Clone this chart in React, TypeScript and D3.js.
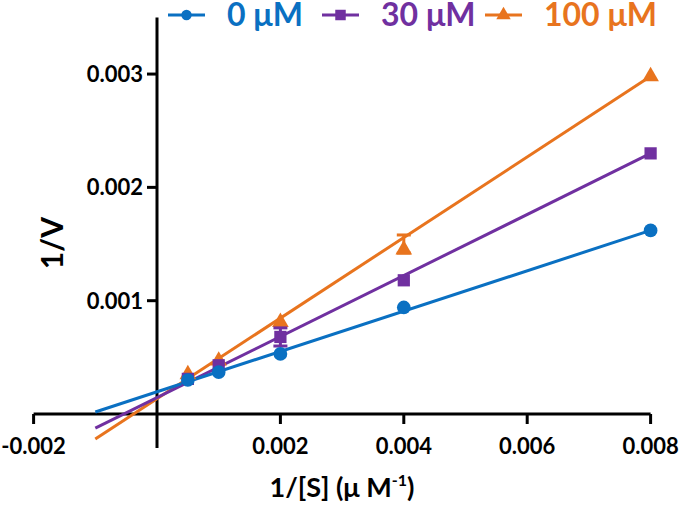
import React from "react";
import * as d3 from "d3";

const seriesNames = ["0 μM", "30 μM", "100 μM"];
const seriesColors = ["#0A70C2", "#7030A0", "#E8741E"];
const xValues = [0.0005, 0.001, 0.002, 0.004, 0.008];
const blueValues = [0.0003, 0.00037, 0.00053, 0.00094, 0.00162];
const purpleValues = [0.00031, 0.00043, 0.00068, 0.00118, 0.0023];
const orangeValues = [0.00035, 0.00047, 0.00081, 0.00145, 0.00298];
const blueErrorsUp = [0, 0, 0, 0, 0];
const blueErrorsDown = [0, 0, 0, 0, 0];
const purpleErrorsUp = [0, 0, 0.00008, 0, 0];
const purpleErrorsDown = [0, 0, 0.00008, 0, 0];
const orangeErrorsUp = [0, 0, 0, 0.00013, 0];
const orangeErrorsDown = [0, 0, 0, 0.00003, 0];
const fitSlopes = [0.178, 0.2693, 0.3556];
const fitIntercepts = [0.000196, 0.000145, 0.000135];
const fitRange = [-0.001, 0.008];
const xTicks = [-0.002, 0.002, 0.004, 0.006, 0.008];
const yTicks = [0.001, 0.002, 0.003];

const FONT = "Lato, 'Open Sans', sans-serif";

export default function App() {
  const W = 680, H = 509;
  const x = d3.scaleLinear().domain([-0.002, 0.008]).range([33.6, 650.6]);
  const y = d3.scaleLinear().domain([-0.0003, 0.0035]).range([448, 17.4]);
  const x0 = x(0), y0 = y(0);

  const series = [
    { values: blueValues, up: blueErrorsUp, down: blueErrorsDown, symbol: d3.symbolCircle, size: 148 },
    { values: purpleValues, up: purpleErrorsUp, down: purpleErrorsDown, symbol: d3.symbolSquare, size: 150 },
    { values: orangeValues, up: orangeErrorsUp, down: orangeErrorsDown, symbol: d3.symbolTriangle, size: 120 },
  ];
  const legendSymbolSizes = [85, 110, 90];
  const legendX = [168, 322, 485];
  const drawOrder = [2, 1, 0];

  const line = d3.line<number[]>().x((d) => x(d[0])).y((d) => y(d[1]));

  return (
    <svg width={W} height={H} style={{ position: "absolute", left: 0, top: 0, background: "#fff" }} fontFamily={FONT}>
      {/* axes */}
      <line x1={x.range()[0]} x2={x.range()[1]} y1={y0} y2={y0} stroke="#000" strokeWidth={3} />
      <line x1={x0} x2={x0} y1={y.range()[1]} y2={y.range()[0]} stroke="#000" strokeWidth={3} />
      {xTicks.map((t) => (
        <g key={"xt" + t}>
          <line x1={x(t)} x2={x(t)} y1={y0} y2={y0 + 10} stroke="#000" strokeWidth={3} />
          <text x={x(t)} y={454} textAnchor="middle" fontSize={22} fontWeight="bold" fill="#000">
            {d3.format(".3f")(t).replace("−", "-")}
          </text>
        </g>
      ))}
      {yTicks.map((t) => (
        <g key={"yt" + t}>
          <line x1={x0 - 10} x2={x0} y1={y(t)} y2={y(t)} stroke="#000" strokeWidth={3} />
          <text x={143} y={y(t)} dy="0.36em" textAnchor="end" fontSize={22} fontWeight="bold" fill="#000">
            {d3.format(".3f")(t)}
          </text>
        </g>
      ))}
      <text transform="translate(63,243) rotate(-90)" textAnchor="middle" fontSize={30} fontWeight="bold" fill="#000">
        1/V
      </text>
      <text x={342} y={497} textAnchor="middle" fontSize={27} fontWeight="bold" fill="#000">
        1/[S] (μ M<tspan fontSize={16} dy={-11}>-1</tspan><tspan dy={11}>)</tspan>
      </text>

      {/* fit lines */}
      {drawOrder.map((i) => (
        <path
          key={"fit" + i}
          d={line(fitRange.map((xv) => [xv, fitIntercepts[i] + fitSlopes[i] * xv])) || ""}
          fill="none"
          stroke={seriesColors[i]}
          strokeWidth={3}
        />
      ))}

      {/* error bars and markers */}
      {drawOrder.map((i) => {
        const s = series[i];
        const sym = d3.symbol().type(s.symbol).size(s.size)();
        return (
          <g key={"pts" + i}>
            {xValues.map((xv, j) =>
              s.up[j] > 0 || s.down[j] > 0 ? (
                <g key={"e" + j} stroke={seriesColors[i]} strokeWidth={3}>
                  <line x1={x(xv)} x2={x(xv)} y1={y(s.values[j] + s.up[j])} y2={y(s.values[j] - s.down[j])} />
                  <line x1={x(xv) - 7} x2={x(xv) + 7} y1={y(s.values[j] + s.up[j])} y2={y(s.values[j] + s.up[j])} />
                  <line x1={x(xv) - 7} x2={x(xv) + 7} y1={y(s.values[j] - s.down[j])} y2={y(s.values[j] - s.down[j])} />
                </g>
              ) : null
            )}
            {xValues.map((xv, j) => (
              <path key={"m" + j} d={sym || ""} transform={`translate(${x(xv)},${y(s.values[j])})`} fill={seriesColors[i]} />
            ))}
          </g>
        );
      })}

      {/* legend */}
      {seriesNames.map((name, i) => {
        const sym = d3.symbol().type(series[i].symbol).size(legendSymbolSizes[i])();
        const lx = legendX[i];
        return (
          <g key={"lg" + i}>
            <line x1={lx} x2={lx + 37} y1={15} y2={15} stroke={seriesColors[i]} strokeWidth={3} />
            <path d={sym || ""} transform={`translate(${lx + 18.5},15)`} fill={seriesColors[i]} />
            <text x={lx + 59} y={26} fontSize={32} fontWeight="bold" fill={seriesColors[i]}>
              {name}
            </text>
          </g>
        );
      })}
    </svg>
  );
}
